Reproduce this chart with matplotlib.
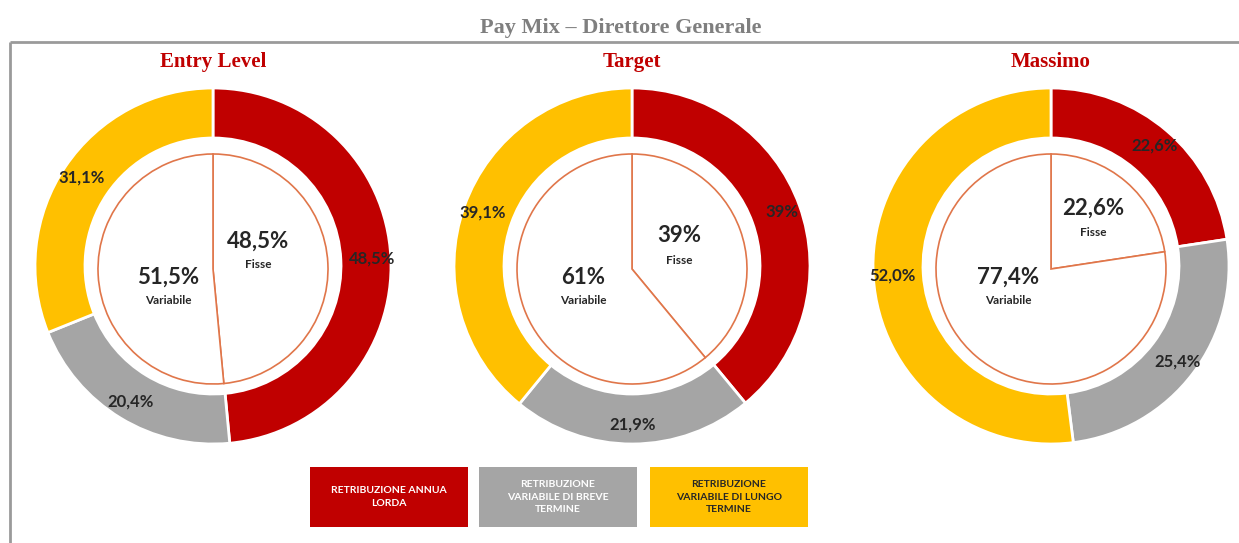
import matplotlib.pyplot as plt
from matplotlib.patches import Rectangle
import numpy as np

# pay mix per scenario: fixed annual pay, short-term variable, long-term variable
scenarios = ["Entry Level", "Target", "Massimo"]
fisso = [48.5, 39.0, 22.6]
breve = [20.4, 21.9, 25.4]
lungo = [31.1, 39.1, 52.0]
ring_labels = [["48,5%", "20,4%", "31,1%"],
               ["39%", "21,9%", "39,1%"],
               ["22,6%", "25,4%", "52,0%"]]
fisse_labels = ["48,5%", "39%", "22,6%"]
variabile_labels = ["51,5%", "61%", "77,4%"]
legend_labels = ["RETRIBUZIONE ANNUA\nLORDA",
                 "RETRIBUZIONE\nVARIABILE DI BREVE\nTERMINE",
                 "RETRIBUZIONE\nVARIABILE DI LUNGO\nTERMINE"]

RED = "#C00000"
GREY = "#A5A5A5"
YELLOW = "#FFC000"
colors = [RED, GREY, YELLOW]
LINE = "#E0764A"
INK = "#262626"

W, H = 1239, 543
fig = plt.figure(figsize=(W / 100, H / 100), dpi=100)
ax = fig.add_axes([0, 0, 1, 1])

sans = ["Lato", "DejaVu Sans"]
serif = ["Liberation Serif", "DejaVu Serif"]

# page frame and title
ax.plot([10, W], [H - 42, H - 42], color="#9a9a9a", lw=2, solid_capstyle="butt")
ax.plot([10, 10], [H - 42, 0], color="#9a9a9a", lw=2, solid_capstyle="butt")
ax.text(621, H - 28, "Pay Mix \u2013 Direttore Generale", ha="center", va="center",
        fontsize=16, fontweight="bold", color="#7f7f7f", family=serif)

centers = [(213, H - 266), (632, H - 266), (1051, H - 266)]
outer_r, ring_w, inner_r = 178, 50, 115
# where the fisse / variabile captions sit, relative to the centre
fisse_pos = [(45, 25), (47, 30), (42, 58)]
var_pos = [(-45, -11), (-49, -11), (-43, -11)]

for i, (cx, cy) in enumerate(centers):
    vals = [fisso[i], breve[i], lungo[i]]
    ax.pie(vals, colors=colors, radius=outer_r, center=(cx, cy), startangle=90,
           counterclock=False, wedgeprops=dict(width=ring_w, edgecolor="white", linewidth=2))
    ax.pie([fisso[i], 100 - fisso[i]], colors=["white", "white"], radius=inner_r,
           center=(cx, cy - 3), startangle=90, counterclock=False,
           wedgeprops=dict(edgecolor=LINE, linewidth=1.2))

    # ring percentages at the middle of each wedge
    cum = np.cumsum([0] + vals)
    for j in range(3):
        mid = (cum[j] + cum[j + 1]) / 2 / 100.0
        ang = np.deg2rad(90 - 360 * mid)
        r = outer_r - ring_w / 2 + 6
        ax.text(cx + r * np.cos(ang), cy + r * np.sin(ang), ring_labels[i][j],
                ha="center", va="center", fontsize=12, fontweight="bold",
                color=INK, family=sans)

    fx, fy = fisse_pos[i]
    ax.text(cx + fx, cy + fy, fisse_labels[i], ha="center", va="center",
            fontsize=16, fontweight="bold", color=INK, family=sans)
    ax.text(cx + fx, cy + fy - 24, "Fisse", ha="center", va="center",
            fontsize=8.5, fontweight="bold", color=INK, family=sans)
    vx, vy = var_pos[i]
    ax.text(cx + vx, cy + vy, variabile_labels[i], ha="center", va="center",
            fontsize=16, fontweight="bold", color=INK, family=sans)
    ax.text(cx + vx, cy + vy - 24, "Variabile", ha="center", va="center",
            fontsize=8.5, fontweight="bold", color=INK, family=sans)

    ax.text(cx, H - 62, scenarios[i], ha="center", va="center", fontsize=15,
            fontweight="bold", color=RED, family=serif)

# legend boxes
box_x = [310, 479, 650]
text_colors = ["white", "white", INK]
for k in range(3):
    ax.add_patch(Rectangle((box_x[k], H - 527), 158, 60, facecolor=colors[k], edgecolor="none"))
    ax.text(box_x[k] + 79, H - 497, legend_labels[k], ha="center", va="center",
            fontsize=7.5, fontweight="bold", color=text_colors[k], family=sans,
            linespacing=1.55)

# pie() resets the limits, so set the page coordinates last
ax.set_xlim(0, W)
ax.set_ylim(0, H)
ax.set_aspect("equal")
ax.axis("off")

fig.savefig("out.png", dpi=100)
